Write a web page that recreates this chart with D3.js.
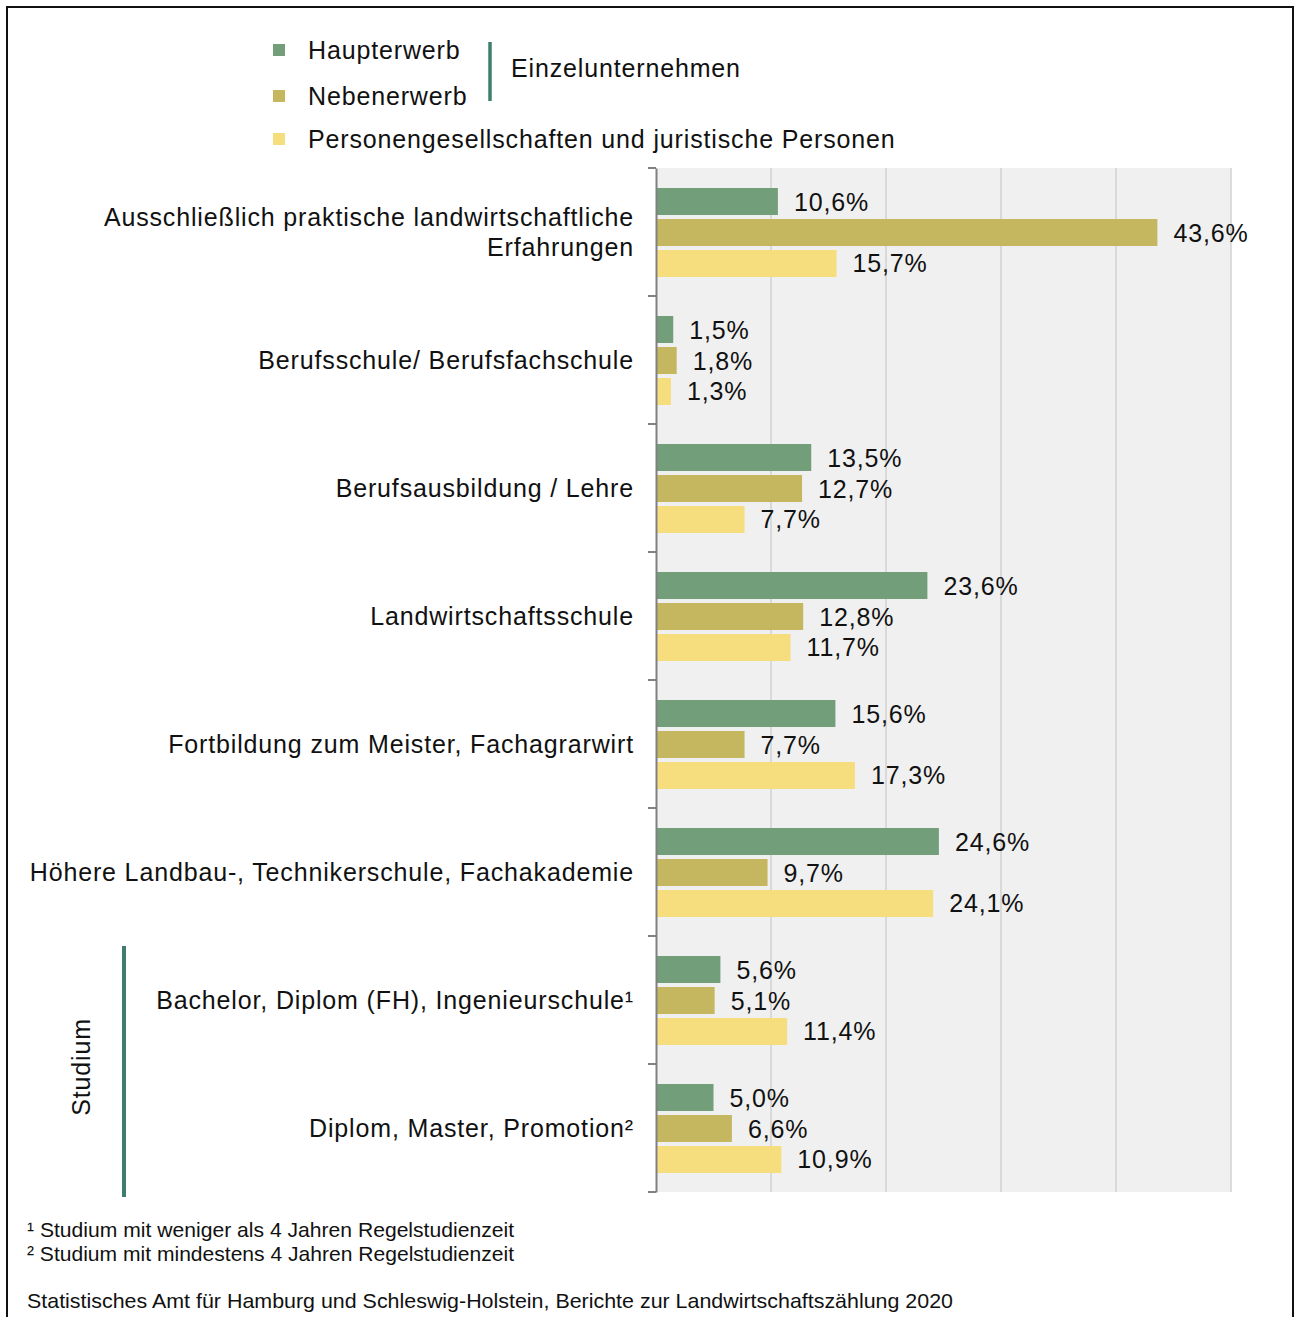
<html>
<head>
<meta charset="utf-8">
<style>
  body { margin: 0; background: #fff; }
  svg { display: block; }
  text { font-family: "Liberation Sans", Arial, sans-serif; fill: #111; }
  .lbl { font-size: 25px; letter-spacing: 0.85px; }
  .note { font-family: "Liberation Sans Narrow", "Liberation Sans", Arial, sans-serif; font-size: 21px; }
</style>
<script src="https://cdn.jsdelivr.net/npm/d3@7"></script>
</head>
<body>
<div id="container"></div>
<script>

// categories (each entry = lines of the label)
const categories = [
  ["Ausschließlich praktische landwirtschaftliche", "Erfahrungen"],
  ["Berufsschule/ Berufsfachschule"],
  ["Berufsausbildung / Lehre"],
  ["Landwirtschaftsschule"],
  ["Fortbildung zum Meister, Fachagrarwirt"],
  ["Höhere Landbau-, Technikerschule, Fachakademie"],
  ["Bachelor, Diplom (FH), Ingenieurschule¹"],
  ["Diplom, Master, Promotion²"]
];
const seriesNames = ["Haupterwerb", "Nebenerwerb", "Personengesellschaften und juristische Personen"];
const haupterwerb = [10.6, 1.5, 13.5, 23.6, 15.6, 24.6, 5.6, 5.0];
const nebenerwerb = [43.6, 1.8, 12.7, 12.8, 7.7, 9.7, 5.1, 6.6];
const personen    = [15.7, 1.3, 7.7, 11.7, 17.3, 24.1, 11.4, 10.9];
const gridTicks = [0, 10, 20, 30, 40, 50];
const footnotes = [
  "¹ Studium mit weniger als 4 Jahren Regelstudienzeit",
  "² Studium mit mindestens 4 Jahren Regelstudienzeit"
];
const source = "Statistisches Amt für Hamburg und Schleswig-Holstein,  Berichte zur Landwirtschaftszählung  2020";

const colors = ["#739e7a", "#c4b760", "#f6de7e"];
const teal = "#3f7e6e";

const W = 1296, H = 1317;
const svg = d3.select("#container").append("svg").attr("width", W).attr("height", H);

// outer frame
svg.append("rect").attr("x", 7).attr("y", 7).attr("width", 1286).attr("height", 1330)
  .attr("fill", "none").attr("stroke", "#111").attr("stroke-width", 2);

const keys = categories.map((c, i) => i);
const x = d3.scaleLinear().domain([0, 50]).range([656, 1231]);
const y = d3.scaleBand().domain(keys).range([168, 1192]);
const ySub = d3.scaleBand().domain([0, 1, 2]).range([20, 109]).paddingInner(0.129);

const loc = d3.formatLocale({decimal: ",", thousands: ".", grouping: [3], currency: ["", "€"]});
const fmt = v => loc.format(".1f")(v) + "%";

// plot background + gridlines
svg.append("rect").attr("x", x(0)).attr("y", y.range()[0])
  .attr("width", x(50) - x(0)).attr("height", y.range()[1] - y.range()[0])
  .attr("fill", "#f0f0f0");

svg.append("g").selectAll("line").data(gridTicks.slice(1)).join("line")
  .attr("x1", d => x(d)).attr("x2", d => x(d))
  .attr("y1", y.range()[0]).attr("y2", y.range()[1])
  .attr("stroke", "#d2d2d2").attr("stroke-width", 1.5);

// bars
const rows = keys.map(i => [haupterwerb[i], nebenerwerb[i], personen[i]]);
const grp = svg.append("g").selectAll("g").data(rows).join("g")
  .attr("transform", (d, i) => `translate(0,${y(i)})`);

grp.selectAll("rect").data(d => d).join("rect")
  .attr("x", x(0) + 1)
  .attr("y", (d, j) => ySub(j))
  .attr("width", d => x(d) - x(0) - 1)
  .attr("height", ySub.bandwidth())
  .attr("fill", (d, j) => colors[j]);

grp.selectAll("text").data(d => d).join("text")
  .attr("class", "lbl")
  .attr("x", d => x(d) + 16)
  .attr("y", (d, j) => ySub(j) + ySub.bandwidth() / 2)
  .attr("dy", "0.36em")
  .text(d => fmt(d));

// y axis
const yAxis = d3.axisLeft(y).tickValues([]).tickSizeOuter(0);
const ax = svg.append("g").attr("transform", `translate(${x(0)},0)`).call(yAxis);
ax.select(".domain").attr("stroke", "#808080").attr("stroke-width", 2);
const bounds = keys.map(i => y(i)).concat([y.range()[1]]);
ax.selectAll(".tk").data(bounds).join("line")
  .attr("x1", -8).attr("x2", 0).attr("y1", d => d).attr("y2", d => d)
  .attr("stroke", "#808080").attr("stroke-width", 2);

// category labels
const cl = svg.append("g").selectAll("text").data(categories).join("text")
  .attr("class", "lbl")
  .attr("text-anchor", "end")
  .attr("transform", (d, i) => `translate(634,${y(i) + y.bandwidth() / 2})`);
cl.selectAll("tspan").data(d => d.map((t, k) => ({t, k, n: d.length}))).join("tspan")
  .attr("x", 0)
  .attr("y", d => (d.k - (d.n - 1) / 2) * 30)
  .attr("dy", "0.36em")
  .text(d => d.t);

// legend
const legY = [50, 96, 139];
const leg = svg.append("g").selectAll("g").data(seriesNames).join("g")
  .attr("transform", (d, i) => `translate(273,${legY[i]})`);
leg.append("rect").attr("x", 0).attr("y", -6).attr("width", 12).attr("height", 12)
  .attr("fill", (d, i) => colors[i]);
leg.append("text").attr("class", "lbl").attr("x", 35).attr("dy", "0.36em").text(d => d);

svg.append("line").attr("x1", 490).attr("x2", 490).attr("y1", 42).attr("y2", 101)
  .attr("stroke", teal).attr("stroke-width", 3.5);
svg.append("text").attr("class", "lbl").attr("x", 511).attr("y", 68).attr("dy", "0.36em")
  .text("Einzelunternehmen");

// Studium bracket
svg.append("line").attr("x1", 124).attr("x2", 124).attr("y1", 946).attr("y2", 1197)
  .attr("stroke", teal).attr("stroke-width", 4);
svg.append("text").attr("class", "lbl").attr("text-anchor", "middle")
  .attr("transform", "translate(81,1067) rotate(-90)").attr("dy", "0.36em")
  .text("Studium");

// footnotes and source
svg.append("g").selectAll("text").data(footnotes).join("text")
  .attr("class", "note")
  .attr("x", 27).attr("y", (d, i) => 1237 + i * 24)
  .attr("textLength", 487).attr("lengthAdjust", "spacingAndGlyphs")
  .text(d => d);
svg.append("text").attr("class", "note").attr("x", 27).attr("y", 1308)
  .attr("textLength", 926).attr("lengthAdjust", "spacingAndGlyphs")
  .text(source);

</script>
</body>
</html>
